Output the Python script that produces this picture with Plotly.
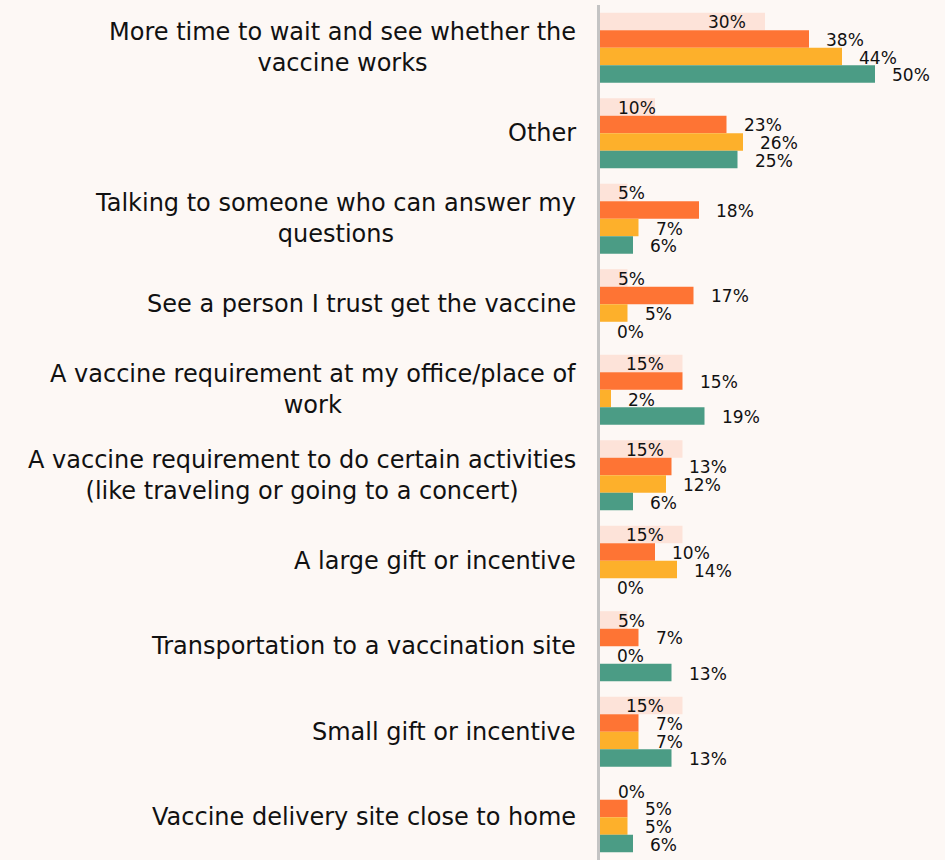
import plotly.graph_objects as go

# Survey answers: what would make respondents more likely to get vaccinated
categories = [
    "More time to wait and see whether the<br>vaccine works",
    "Other",
    "Talking to someone who can answer my<br>questions",
    "See a person I trust get the vaccine",
    "A vaccine requirement at my office/place of<br>work",
    "A vaccine requirement to do certain activities<br>(like traveling or going to a concert)",
    "A large gift or incentive",
    "Transportation to a vaccination site",
    "Small gift or incentive",
    "Vaccine delivery site close to home",
]

series_names = ["Group 1", "Group 2", "Group 3", "Group 4"]
group1 = [30, 10, 5, 5, 15, 15, 15, 5, 15, 0]
group2 = [38, 23, 18, 17, 15, 13, 10, 7, 7, 5]
group3 = [44, 26, 7, 5, 2, 12, 14, 0, 7, 5]
group4 = [50, 25, 6, 0, 19, 6, 0, 13, 13, 6]
series_values = [group1, group2, group3, group4]

colors = ["#fde3d9", "#fe7434", "#fdb02b", "#4b9c85"]
bg = "#fdf8f5"

BARGAP = 0.18
n_series = len(series_values)
bar_w = (1 - BARGAP) / n_series
ypos = list(range(len(categories)))

fig = go.Figure()
for name, vals, col in zip(series_names, series_values, colors):
    fig.add_trace(go.Bar(
        x=vals, y=ypos, orientation="h", name=name,
        marker=dict(color=col, line=dict(width=0)),
        hoverinfo="x+name",
    ))

label_font = dict(family="DejaVu Sans", size=17, color="#111111")
annotations = []
for k, vals in enumerate(series_values):
    for i, v in enumerate(vals):
        yk = i + (k - (n_series - 1) / 2) * bar_w
        if k == 0:
            # first series: label tucked inside the end of the bar, or at the axis if the bar is short
            if v >= 13:
                annotations.append(dict(x=v, y=yk, xref="x", yref="y", text=f"{v}%",
                                        showarrow=False, xanchor="right", xshift=-17,
                                        yshift=-1, font=label_font))
            else:
                annotations.append(dict(x=0, y=yk, xref="x", yref="y", text=f"{v}%",
                                        showarrow=False, xanchor="left", xshift=16,
                                        yshift=-1, font=label_font))
        else:
            annotations.append(dict(x=v, y=yk, xref="x", yref="y", text=f"{v}%",
                                    showarrow=False, xanchor="left", xshift=15,
                                    yshift=-1, font=label_font))

# category labels, centred line by line and right-aligned against the axis
for i, c in enumerate(categories):
    annotations.append(dict(x=0, y=i, xref="paper", yref="y", text=c, showarrow=False,
                            xanchor="right", align="center", xshift=-22,
                            font=dict(family="DejaVu Sans", size=24, color="#111111")))

fig.update_layout(
    width=945, height=860,
    barmode="group", bargap=BARGAP, bargroupgap=0,
    plot_bgcolor=bg, paper_bgcolor=bg,
    margin=dict(l=600, r=4, t=5, b=0),
    showlegend=False,
    annotations=annotations,
    xaxis=dict(range=[0, 62], visible=False, fixedrange=True),
    yaxis=dict(range=[len(categories) - 0.5, -0.5], showticklabels=False,
               showgrid=False, zeroline=False, showline=True,
               linecolor="#c4c4c4", linewidth=3, ticks=""),
)

fig.write_html("out.html")
